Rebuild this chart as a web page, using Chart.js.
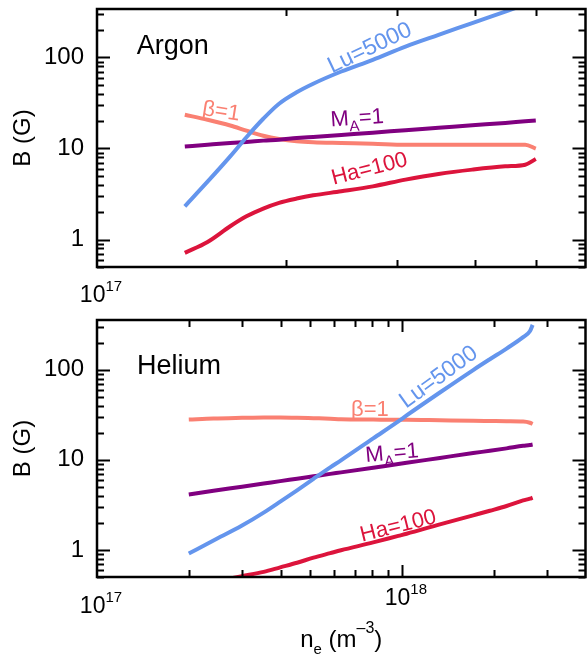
<!DOCTYPE html>
<html>
<head>
<meta charset="utf-8">
<script src="https://cdn.jsdelivr.net/npm/chart.js@4.4.1/dist/chart.umd.min.js"></script>
<style>
  html, body { margin: 0; padding: 0; background: #fff; }
  #wrap { position: relative; width: 587px; height: 660px; }
  canvas { position: absolute; left: 0; }
  #argon { top: 0; }
  #helium { top: 310px; }
</style>
</head>
<body>
<div id="wrap">
  <canvas id="argon" width="587" height="310"></canvas>
  <canvas id="helium" width="587" height="350"></canvas>
</div>
<script>
// Argon panel (electron density in m^-3, field in G)
const argonNe = [1.38e17, 1.5e17, 1.63e17, 1.73e17, 1.84e17, 1.95e17, 2.08e17, 2.21e17, 2.45e17, 2.75e17, 3.1e17, 3.5e17, 3.96e17, 4.47e17, 4.81e17, 5.0e17];
const argonLu = [2.32, 4.32, 8.19, 13.3, 21.2, 31.0, 41.4, 51.4, 70.0, 94.1, 131.6, 177, 238, 319, 379, 417];
const argonBeta = [23.5, 20.7, 17.9, 15.7, 13.8, 12.7, 12.0, 11.7, 11.5, 11.3, 11.0, 11.0, 11.0, 11.0, 11.0, 9.95];
const argonMA = [10.5, 11.0, 11.5, 11.8, 12.2, 12.5, 13.0, 13.4, 14.1, 14.9, 15.9, 16.9, 18.0, 19.1, 19.9, 20.3];
const argonHa = [0.715, 0.94, 1.40, 1.80, 2.19, 2.53, 2.82, 3.06, 3.39, 3.84, 4.55, 5.25, 5.86, 6.37, 6.64, 7.67];

// Helium panel
const heliumNe = [2.0e17, 2.41e17, 2.99e17, 3.52e17, 3.99e17, 4.53e17, 5.13e17, 5.82e17, 6.31e17, 8.05e17, 9.73e17, 1.036e18, 1.332e18, 1.713e18, 1.943e18, 2.204e18, 2.498e18, 2.628e18, 2.683e18];
const heliumLu = [0.91, 1.27, 1.86, 2.59, 3.43, 4.59, 6.16, 8.26, 9.87, 17.3, 26.7, 31.1, 55.9, 99.3, 131, 172, 230, 268, 315];
const heliumBeta = [28.0, 28.8, 29.3, 29.6, 29.6, 29.4, 29.0, 28.6, 28.3, 28.0, 27.8, 27.8, 27.5, 27.2, 27.0, 26.8, 26.6, 25.8, 25.0];
const heliumMA = [4.13, 4.53, 5.03, 5.45, 5.80, 6.17, 6.56, 6.98, 7.26, 8.18, 8.98, 9.26, 10.5, 11.9, 12.6, 13.4, 14.3, 14.6, 14.8];
const heliumHa = [0.38, 0.44, 0.51, 0.57, 0.64, 0.72, 0.82, 0.92, 0.99, 1.21, 1.43, 1.51, 1.92, 2.42, 2.72, 3.07, 3.54, 3.70, 3.80];

// axes
const yLabelTicks = [1, 10, 100];
const argonXTicks = [2e17, 3e17, 4e17, 5e17];
const heliumXTicks = [2e17, 3e17, 4e17, 5e17, 6e17, 7e17, 8e17, 9e17, 1e18, 2e18, 3e18];
const heliumXMajor = [1e18];
const argonXLabels = [1e17];
const heliumXLabels = [1e17, 1e18];

const FONT = '"Liberation Sans", Arial, Helvetica, sans-serif';
const COLORS = { lu: '#6495ed', beta: '#fa8072', ma: '#800080', ha: '#dc143c' };

function series(xs, ys) {
    return xs.map((x, i) => ({ x: x, y: ys[i] }));
}

// draws a run of text pieces (for sub/superscripts), centred or left-aligned on (x, y)
function drawRich(ctx, parts, x, y, angle, color, align) {
    ctx.save();
    ctx.translate(x, y);
    ctx.rotate(angle * Math.PI / 180);
    ctx.fillStyle = color;
    ctx.textBaseline = 'alphabetic';
    let total = 0;
    parts.forEach(p => {
        ctx.font = p.size + 'px ' + FONT;
        p.w = ctx.measureText(p.t).width;
        total += p.w;
    });
    let cx = align === 'left' ? 0 : -total / 2;
    parts.forEach(p => {
        ctx.font = p.size + 'px ' + FONT;
        ctx.fillText(p.t, cx, p.dy || 0);
        cx += p.w;
    });
    ctx.restore();
}

const decor = {
    id: 'decor',
    afterDatasetsDraw(chart, args, opts) {
        const { ctx, chartArea: a } = chart;
        const x = chart.scales.x, y = chart.scales.y;
        ctx.save();

        // curve labels (anchored at the text's visual middle)
        opts.notes.forEach(n => {
            const px = x.getPixelForValue(n.x), py = y.getPixelForValue(n.y);
            const size = n.parts[0].size;
            const ang = (n.angle || 0) * Math.PI / 180;
            const off = size * 0.36;
            drawRich(ctx, n.parts, px - Math.sin(ang) * off, py + Math.cos(ang) * off, n.angle || 0, n.color || '#000', n.align);
        });

        // inward ticks
        ctx.strokeStyle = '#000';
        ctx.lineWidth = 2;
        ctx.beginPath();
        const lo = Math.floor(Math.log10(y.min)), hi = Math.ceil(Math.log10(y.max));
        for (let e = lo; e <= hi; e++) {
            for (let m = 1; m <= 9; m++) {
                const v = m * Math.pow(10, e);
                if (v < y.min || v > y.max) continue;
                const py = Math.round(y.getPixelForValue(v)) + 0.5;
                const len = m === 1 ? 13 : 7;
                ctx.moveTo(a.left, py); ctx.lineTo(a.left + len, py);
                ctx.moveTo(a.right, py); ctx.lineTo(a.right - len, py);
            }
        }
        opts.xTicks.forEach(v => {
            const px = Math.round(x.getPixelForValue(v)) + 0.5;
            const len = opts.xMajor.includes(v) ? 12 : 7;
            ctx.moveTo(px, a.bottom); ctx.lineTo(px, a.bottom - len);
            ctx.moveTo(px, a.top); ctx.lineTo(px, a.top + len);
        });
        ctx.stroke();

        // frame
        ctx.lineWidth = 2.5;
        ctx.strokeRect(a.left, a.top, a.right - a.left, a.bottom - a.top);

        // x tick labels 10^n
        opts.xLabels.forEach((v, i) => {
            const exp = String(Math.round(Math.log10(v)));
            drawRich(ctx, [{ t: '10', size: 23 }, { t: exp, size: 15, dy: -11 }],
                x.getPixelForValue(v) + 4, opts.xLabelBase[i], 0, '#000');
        });

        // x title
        if (opts.xTitle) {
            drawRich(ctx, [
                { t: 'n', size: 24 },
                { t: 'e', size: 15, dy: 7 },
                { t: ' (m', size: 24 },
                { t: '\u20133', size: 16, dy: -14 },
                { t: ')', size: 24 }
            ], (a.left + a.right) / 2, opts.xTitleBase, 0, '#000');
        }
        ctx.restore();
    }
};

function makeChart(id, xs, data, xRange, yRange, pad, plugOpts) {
    const sets = [
        { key: 'lu', ys: data.lu },
        { key: 'ma', ys: data.ma },
        { key: 'beta', ys: data.beta },
        { key: 'ha', ys: data.ha }
    ];
    return new Chart(document.getElementById(id), {
        type: 'line',
        data: {
            datasets: sets.map(s => ({
                data: series(xs, s.ys),
                borderColor: COLORS[s.key],
                borderWidth: 4,
                pointRadius: 0,
                fill: false,
                cubicInterpolationMode: 'monotone',
                clip: 0
            }))
        },
        options: {
            responsive: false,
            animation: false,
            layout: { padding: pad },
            plugins: { legend: { display: false }, tooltip: { enabled: false }, decor: plugOpts },
            scales: {
                x: { type: 'logarithmic', min: xRange[0], max: xRange[1], display: false },
                y: {
                    type: 'logarithmic', min: yRange[0], max: yRange[1],
                    afterBuildTicks: s => { s.ticks = yLabelTicks.map(v => ({ value: v })); },
                    afterFit: s => { s.width = 97; s.paddingTop = 0; s.paddingBottom = 0; },
                    grid: { display: false, drawTicks: false },
                    border: { display: false },
                    ticks: {
                        color: '#000', padding: 13,
                        font: { family: FONT, size: 24 },
                        callback: v => String(v)
                    },
                    title: {
                        display: true, text: 'B (G)', color: '#000',
                        font: { family: FONT, size: 24 },
                        padding: { top: 9, bottom: 0 }
                    }
                }
            }
        },
        plugins: [decor]
    });
}

const mA = [{ t: 'M', size: 22 }, { t: 'A', size: 15, dy: 6 }, { t: '=1', size: 22 }];

makeChart('argon', argonNe,
    { lu: argonLu, beta: argonBeta, ma: argonMA, ha: argonHa },
    [1e17, 6e17], [0.5, 340],
    { top: 9, right: 1.5, bottom: 43, left: 0 },
    {
        xTicks: argonXTicks, xMajor: [], xLabels: argonXLabels, xLabelBase: [302],
        notes: [
            { parts: [{ t: 'Argon', size: 27 }], x: 1.157e17, y: 139, align: 'left' },
            { parts: [{ t: '\u03b2=1', size: 22 }], x: 1.578e17, y: 26.6, angle: 9, color: COLORS.beta },
            { parts: [{ t: 'Lu=5000', size: 23 }], x: 2.713e17, y: 132, angle: -25.5, color: COLORS.lu },
            { parts: mA, x: 2.596e17, y: 22.3, angle: -4, color: COLORS.ma },
            { parts: [{ t: 'Ha=100', size: 22 }], x: 2.713e17, y: 6.2, angle: -14.5, color: COLORS.ha }
        ]
    });

makeChart('helium', heliumNe,
    { lu: heliumLu, beta: heliumBeta, ma: heliumMA, ha: heliumHa },
    [1e17, 4e18], [0.5, 357],
    { top: 10, right: 1.5, bottom: 83, left: 0 },
    {
        xTicks: heliumXTicks, xMajor: heliumXMajor, xLabels: heliumXLabels, xLabelBase: [303, 295],
        xTitle: true, xTitleBase: 337,
        notes: [
            { parts: [{ t: 'Helium', size: 27 }], x: 1.352e17, y: 115.6, align: 'left' },
            { parts: [{ t: '\u03b2=1', size: 22 }], x: 7.85e17, y: 37.7, color: COLORS.beta },
            { parts: [{ t: 'Lu=5000', size: 23 }], x: 1.31e18, y: 86, angle: -36, color: COLORS.lu },
            { parts: mA, x: 9.27e17, y: 12.3, angle: -5, color: COLORS.ma },
            { parts: [{ t: 'Ha=100', size: 22 }], x: 9.70e17, y: 1.91, angle: -14, color: COLORS.ha }
        ]
    });
</script>
</body>
</html>
